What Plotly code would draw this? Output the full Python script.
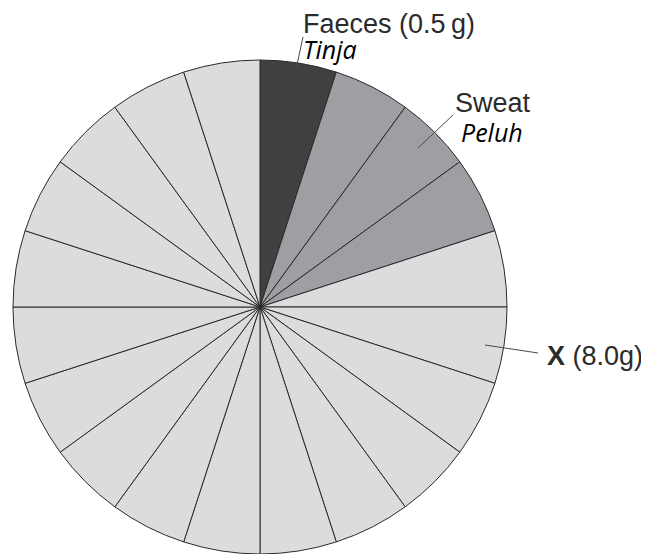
import plotly.graph_objects as go

# Data: water loss components (g), each drawn as 0.5 g segments
components = ["Faeces", "Sweat", "X"]
masses = [0.5, 1.5, 8.0]
segment_size = 0.5
component_colors = {"Faeces": "#404040", "Sweat": "#9e9fa3", "X": "#dcdcdf"}

labels, values, colors = [], [], []
for comp, m in zip(components, masses):
    n = int(round(m / segment_size))
    for i in range(n):
        labels.append(f"{comp} {i+1}")
        values.append(segment_size)
        colors.append(component_colors[comp])

# page body has an 8px margin, so figure is placed at (8, 8)
OFF = 8
W, H = 649 - OFF, 554 - OFF

def px(x):
    return (x - OFF) / W

def py(y):
    return 1 - (y - OFF) / H

fig = go.Figure(go.Pie(
    labels=labels,
    values=values,
    sort=False,
    direction="clockwise",
    rotation=0,
    marker=dict(colors=colors, line=dict(color="#2a2a2a", width=1)),
    textinfo="none",
    hoverinfo="none",
    showlegend=False,
    domain=dict(x=[px(13), px(507)], y=[0, py(60)]),
))

sans = "Liberation Sans, Arial, sans-serif"
ital = "Open Sans, sans-serif"
lab_col = "#2b2b2b"

faeces_text = (
    f'<span style="font-size:27px;color:{lab_col}">Faeces (0.5\u2009g)</span><br>'
    f'<span style="font-family:{ital};font-size:25px;color:#000000"><i>Tinja</i></span>'
)

annotations = [
    dict(text=faeces_text, x=px(302), y=py(8), yanchor="top", align="left",
         font=dict(family=sans, size=20, color=lab_col)),
    dict(text="Sweat", x=px(454), y=py(103), font=dict(family=sans, size=27, color=lab_col)),
    dict(text="<i>Peluh</i>", x=px(460), y=py(132), font=dict(family=ital, size=25, color="#000000")),
    dict(text="<b>X</b> (8.0g)", x=px(546), y=py(356), font=dict(family=sans, size=27, color=lab_col)),
]
for a in annotations:
    a.setdefault("yanchor", "middle")
    a.update(xref="paper", yref="paper", xanchor="left", showarrow=False, borderpad=0)

lines = [
    ((295, 74), (303, 37)),
    ((418, 148), (453, 115)),
    ((485, 345), (538, 353)),
]
shapes = [
    dict(type="line", xref="paper", yref="paper",
         x0=px(a[0]), y0=py(a[1]), x1=px(b[0]), y1=py(b[1]),
         line=dict(color="#4a4a4a", width=1))
    for a, b in lines
]

fig.update_layout(
    width=W, height=H,
    margin=dict(l=0, r=0, t=0, b=0),
    paper_bgcolor="white",
    plot_bgcolor="white",
    annotations=annotations,
    shapes=shapes,
)

fig.write_html("out.html")
